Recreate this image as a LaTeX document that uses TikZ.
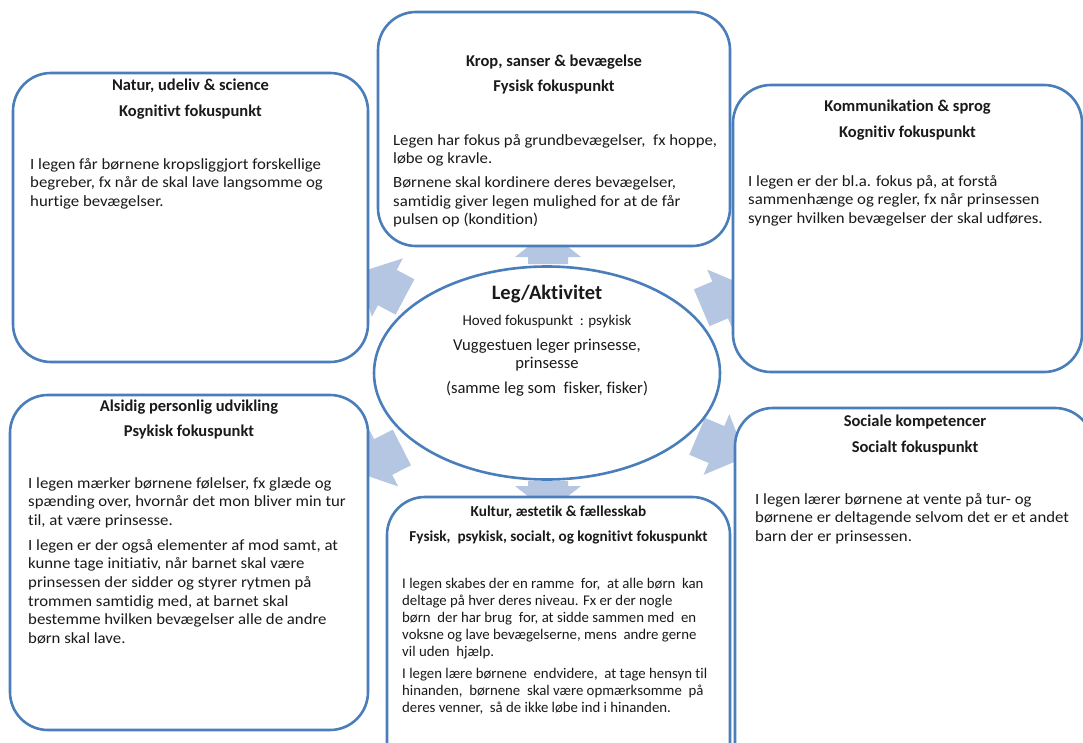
\documentclass[tikz,border=0pt]{standalone}
\usepackage{fontspec}
\setmainfont{Carlito}[Ligatures=NoCommon]
\newfontfamily\widefont{Carlito}[Ligatures=NoCommon, FakeStretch=1.075]
\usetikzlibrary{shapes.geometric}
\definecolor{boxline}{HTML}{4A7EBB}
\definecolor{arrowfill}{HTML}{B4C6E2}
\definecolor{txt}{HTML}{1A1A1A}
\begin{document}
\begin{tikzpicture}[x=1pt,y=-1pt,
  box/.style={draw=boxline, line width=2.6pt, fill=white, rounded corners=38pt, inner sep=0pt},
  oval/.style={draw=boxline, line width=2.6pt, fill=white, ellipse, inner sep=0pt},
  headline/.style={font=\bfseries\fontsize{16.5}{19}\selectfont, text=txt, anchor=center, inner sep=0pt},
  smallhead/.style={font=\bfseries\fontsize{15.2}{18}\selectfont, text=txt, anchor=center, inner sep=0pt},
  bodytext/.style={font=\widefont\fontsize{15.6}{18.6}\selectfont, text=txt, align=left, anchor=north west, inner sep=0pt},
  smallbody/.style={font=\fontsize{14.8}{17}\selectfont, text=txt, align=left, anchor=north west, inner sep=0pt},
  ovaltext/.style={text=txt, anchor=center, inner sep=0pt, align=center},
  blockarrow/.style={fill=arrowfill, draw=none}]
\useasboundingbox (0,0) rectangle (1083,743);
\clip (0,0) rectangle (1083,743);
\fill[white] (0,0) rectangle (1083,743);

\coordinate (c) at (548,373);
% radial block arrows (tips hidden beneath the boxes)
\foreach \a/\r/\b/\t in {152/162/182/214, 23/167/187/219, 207/164/185/217, 337/162/183/215, 90/109/116/142, 270/108/113/139}
  \fill[blockarrow, shift={(c)}, rotate=\a] (\r,-20) -- (\b,-20) -- (\b,-33) -- (\t,0) -- (\b,33) -- (\b,20) -- (\r,20) -- cycle;

% central ellipse
\node[oval, minimum width=346pt, minimum height=213pt] (leg) at (547,373) {};
\node[ovaltext, font=\bfseries\fontsize{20.5}{24}\selectfont] (legt) at (547,294) {Leg/Aktivitet};
\node[ovaltext, font=\fontsize{15}{18}\selectfont] (legh) at (547,321) {Hoved fokuspunkt\ \ : psykisk};
\node[ovaltext, font=\fontsize{16.6}{18}\selectfont] (legv) at (547,355) {Vuggestuen leger prinsesse,\\prinsesse};
\node[ovaltext, font=\fontsize{16.6}{18}\selectfont] (legs) at (547,389) {(samme leg som\ \ fisker, fisker)};

% boxes
\node[box, minimum width=352pt, minimum height=234pt] (krop) at (554,129) {};
\node[box, minimum width=355pt, minimum height=289pt] (natur) at (190.5,217.5) {};
\node[box, minimum width=349pt, minimum height=287pt] (komm) at (907.5,228.5) {};
\node[box, minimum width=358pt, minimum height=335pt] (alsidig) at (189,562.5) {};
\node[box, minimum width=343pt, minimum height=285pt] (kultur) at (558.5,639.5) {};
\node[box, minimum width=358pt, minimum height=372pt] (sociale) at (914,594) {};

% Krop
\node[headline] (krop1) at (554,62) {Krop, sanser \& bevægelse};
\node[headline] (krop2) at (554,87) {Fysisk fokuspunkt};
\node[bodytext] (kropb) at (393,134) {Legen har fokus på grundbevægelser,\ \ fx hoppe,\\løbe og kravle.\\[5pt]Børnene skal kordinere deres bevægelser,\\samtidig giver legen mulighed for at de får\\pulsen op (kondition)};

% Natur
\node[headline] (natur1) at (190.5,86) {Natur, udeliv \& science};
\node[headline] (natur2) at (190.5,112) {Kognitivt fokuspunkt};
\node[bodytext] (naturb) at (30,158) {I legen får børnene kropsliggjort forskellige\\begreber, fx når de skal lave langsomme og\\hurtige bevægelser.};

% Kommunikation
\node[headline] (komm1) at (907.5,107) {Kommunikation \& sprog};
\node[headline] (komm2) at (907.5,133) {Kognitiv fokuspunkt};
\node[bodytext] (kommb) at (748,175) {I legen er der bl.a. fokus på, at forstå\\sammenhænge og regler, fx når prinsessen\\synger hvilken bevægelser der skal udføres.};

% Alsidig
\node[headline] (als1) at (189,407) {Alsidig personlig udvikling};
\node[headline] (als2) at (189,432) {Psykisk fokuspunkt};
\node[bodytext] (alsb) at (28,477) {I legen mærker børnene følelser, fx glæde og\\spænding over, hvornår det mon bliver min tur\\til, at være prinsesse.\\[6.5pt]I legen er der også elementer af mod samt, at\\kunne tage initiativ, når barnet skal være\\prinsessen der sidder og styrer rytmen på\\trommen samtidig med, at barnet skal\\bestemme hvilken bevægelser alle de andre\\børn skal lave.};

% Kultur
\node[smallhead] (kul1) at (558.5,512) {Kultur, æstetik \& fællesskab};
\node[smallhead] (kul2) at (558.5,537) {Fysisk,\ \ psykisk, socialt, og kognitivt fokuspunkt};
\node[smallbody] (kulb) at (402,578) {I legen skabes der en ramme\ \ for,\ \ at alle børn\ \ kan\\deltage på hver deres niveau. Fx er der nogle\\børn\ \ der har brug\ \ for, at sidde sammen med\ \ en\\voksne og lave bevægelserne, mens\ \ andre gerne\\vil uden\ \ hjælp.\\[5pt]I legen lære børnene\ \ endvidere,\ \ at tage hensyn til\\hinanden,\ \ børnene\ \ skal være opmærksomme\ \ på\\deres venner,\ \ så de ikke løbe ind i hinanden.};

% Sociale
\node[headline] (soc1) at (915,422) {Sociale kompetencer};
\node[headline] (soc2) at (915,448) {Socialt fokuspunkt};
\node[bodytext] (socb) at (755,493) {I legen lærer børnene at vente på tur- og\\børnene er deltagende selvom det er et andet\\barn der er prinsessen.};
\end{tikzpicture}
\end{document}
